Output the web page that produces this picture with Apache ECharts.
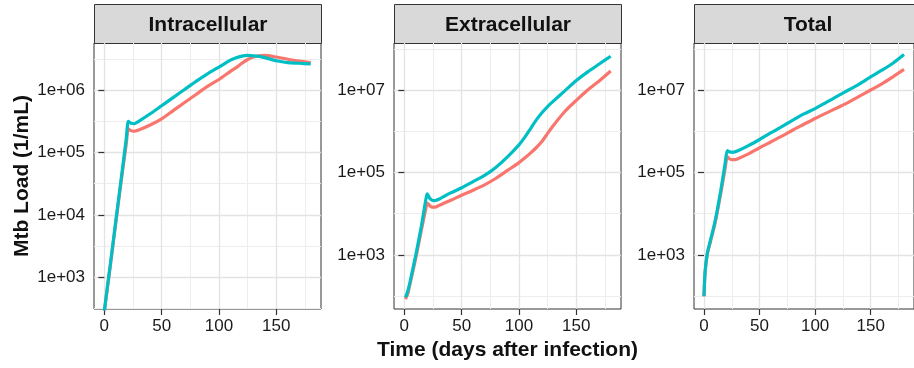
<!DOCTYPE html>
<html>
<head>
<meta charset="utf-8">
<script src="https://cdn.jsdelivr.net/npm/echarts@6/dist/echarts.min.js"></script>
<style>
html,body{margin:0;padding:0;background:#fff;}
#chart{width:914px;height:368px;}
</style>
</head>
<body>
<div id="chart"></div>
<script>
// ---- data (Mtb load, 1/mL) ----
const panelTitles = ['Intracellular', 'Extracellular', 'Total'];
const seriesNames = ['red', 'teal'];

const intraDays = [0,1,3,5,10,15,19,21,23,26,30,40,50,60,70,80,90,100,110,115,120,125,130,135,140,150,160,170,180];
const intraRed  = [282,389,741,1413,7413,3.802e4,1.318e5,2.399e5,2.239e5,2.188e5,2.291e5,2.754e5,3.467e5,4.677e5,6.310e5,8.511e5,1.148e6,1.479e6,1.995e6,2.291e6,2.692e6,3.090e6,3.388e6,3.548e6,3.590e6,3.388e6,3.126e6,2.917e6,2.754e6];
const intraTeal = [282,398,776,1479,7943,4.169e4,1.585e5,3.162e5,2.951e5,2.884e5,3.162e5,4.169e5,5.623e5,7.586e5,1.023e6,1.380e6,1.820e6,2.344e6,3.020e6,3.311e6,3.508e6,3.590e6,3.548e6,3.467e6,3.311e6,2.951e6,2.754e6,2.692e6,2.630e6];

const extraDays = [1,3,5,10,15,19,20,22,24,27,30,40,50,60,70,80,90,100,105,110,115,120,125,130,140,150,160,170,180];
const extraRed  = [85.1,115,200,851,4169,1.445e4,1.820e4,1.585e4,1.445e4,1.445e4,1.585e4,2.089e4,2.818e4,3.715e4,5.012e4,7.244e4,1.122e5,1.738e5,2.239e5,2.951e5,3.981e5,5.623e5,8.913e5,1.380e6,3.020e6,5.623e6,1.0e7,1.660e7,2.884e7];
const extraTeal = [93.3,132,224,1000,5248,2.399e4,3.020e4,2.399e4,2.138e4,2.089e4,2.239e4,3.162e4,4.266e4,6.026e4,8.511e4,1.349e5,2.399e5,4.677e5,7.079e5,1.148e6,1.862e6,2.818e6,3.981e6,5.370e6,9.550e6,1.698e7,2.754e7,4.266e7,6.607e7];

const totalDays = [0,1,3,5,10,15,19,21,23,26,30,40,50,60,70,80,90,100,110,120,130,140,150,160,170,180];
const totalRed  = [100,380,1072,1738,6026,3.020e4,1.259e5,2.399e5,2.138e5,2.042e5,2.138e5,2.818e5,3.981e5,5.495e5,7.586e5,1.072e6,1.479e6,2.042e6,2.754e6,3.715e6,5.012e6,7.079e6,1.0e7,1.413e7,2.089e7,3.162e7];
const totalTeal = [100,398,1122,1862,6607,3.548e4,1.660e5,3.388e5,3.162e5,3.090e5,3.311e5,4.467e5,6.310e5,9.120e5,1.288e6,1.862e6,2.630e6,3.548e6,5.012e6,7.079e6,1.0e7,1.413e7,2.089e7,3.020e7,4.467e7,7.244e7];

// tick labels
const xTickValues = [0, 50, 100, 150];
const xTickLabels = ['0', '50', '100', '150'];
const intraTickValues = [1e3, 1e4, 1e5, 1e6];
const intraTickLabels = ['1e+03', '1e+04', '1e+05', '1e+06'];
const extraTickValues = [1e3, 1e5, 1e7];
const extraTickLabels = ['1e+03', '1e+05', '1e+07'];
const totalTickValues = [1e3, 1e5, 1e7];
const totalTickLabels = ['1e+03', '1e+05', '1e+07'];

// ---- layout / style ----
const FONT = "'Liberation Sans', Arial, Helvetica, sans-serif";
const RED = '#F8766D', TEAL = '#00BFC4';
const panelLeft = [94, 394, 694];
const panelWidth = 227;
const panelTop = 43, panelHeight = 266;
const xRange = [-9, 189];
const yRanges = [[Math.pow(10, 2.49), Math.pow(10, 6.755)], [Math.pow(10, 1.69), Math.pow(10, 8.14)], [Math.pow(10, 1.69), Math.pow(10, 8.14)]];

const panels = [
  {days: intraDays, red: intraRed, teal: intraTeal, tv: intraTickValues, tl: intraTickLabels},
  {days: extraDays, red: extraRed, teal: extraTeal, tv: extraTickValues, tl: extraTickLabels},
  {days: totalDays, red: totalRed, teal: totalTeal, tv: totalTickValues, tl: totalTickLabels}
];

function minorLog(vals, range) {
  const step = Math.log10(vals[1]) - Math.log10(vals[0]);
  const out = [];
  const lo = Math.log10(range[0]), hi = Math.log10(range[1]);
  for (let e = Math.log10(vals[0]) - step / 2 - 10 * step; e <= hi; e += step) {
    if (e >= lo && e <= hi) out.push(Math.pow(10, e));
  }
  return out;
}
const xMinor = [25, 75, 125, 175];

const grids = [], xAxes = [], yAxes = [], series = [], graphics = [];
panels.forEach((p, i) => {
  grids.push({left: panelLeft[i], top: panelTop, width: panelWidth, height: panelHeight,
    show: true, borderColor: '#333', borderWidth: 1, backgroundColor: '#fff', containLabel: false});
  // major x axis
  xAxes.push({
    type: 'value', gridIndex: i, min: xRange[0], max: xRange[1], z: 1,
    axisLine: {show: false},
    axisTick: {show: true, length: 6, lineStyle: {color: '#333', width: 1.2}, customValues: xTickValues},
    axisLabel: {show: true, customValues: xTickValues, fontSize: 17, color: '#1a1a1a', fontFamily: FONT, margin: 9,
      formatter: v => xTickLabels[xTickValues.indexOf(v)]},
    splitLine: {show: true, lineStyle: {color: '#E3E3E3', width: 1.3}},
    name: i === 1 ? 'Time (days after infection)' : '',
    nameLocation: 'middle', nameGap: 28,
    nameTextStyle: {fontSize: 21, fontWeight: 'bold', color: '#111', fontFamily: FONT}
  });
  // minor x grid
  xAxes.push({
    type: 'value', gridIndex: i, min: xRange[0], max: xRange[1], z: 0,
    axisLine: {show: false}, axisLabel: {show: false},
    axisTick: {show: false, customValues: xMinor},
    splitLine: {show: true, lineStyle: {color: '#EDEDED', width: 1}}
  });
  const yr = yRanges[i];
  yAxes.push({
    type: 'log', logBase: 10, gridIndex: i, min: yr[0], max: yr[1], z: 1,
    axisLine: {show: false},
    axisTick: {show: true, length: 6, lineStyle: {color: '#333', width: 1.2}, customValues: p.tv},
    axisLabel: {show: true, customValues: p.tv, fontSize: 17, color: '#1a1a1a', fontFamily: FONT, margin: 9,
      formatter: v => {
        const k = p.tv.findIndex(t => Math.abs(Math.log10(t) - Math.log10(v)) < 1e-6);
        return k >= 0 ? p.tl[k] : '';
      }},
    splitLine: {show: true, lineStyle: {color: '#E3E3E3', width: 1.3}},
    name: i === 0 ? 'Mtb Load (1/mL)' : '',
    nameLocation: 'middle', nameGap: 61,
    nameTextStyle: {fontSize: 21, fontWeight: 'bold', color: '#111', fontFamily: FONT}
  });
  yAxes.push({
    type: 'log', logBase: 10, gridIndex: i, min: yr[0], max: yr[1], z: 0,
    axisLine: {show: false}, axisLabel: {show: false},
    axisTick: {show: false, customValues: minorLog(p.tv, yr)},
    splitLine: {show: true, lineStyle: {color: '#EDEDED', width: 1}}
  });
  [['red', RED], ['teal', TEAL]].forEach(([key, col]) => {
    series.push({
      type: 'line', name: key, xAxisIndex: 2 * i, yAxisIndex: 2 * i,
      data: p.days.map((d, k) => [d, p[key][k]]),
      showSymbol: false, smooth: 0.25, clip: true,
      lineStyle: {color: col, width: 3.2}, itemStyle: {color: col}, z: 3
    });
  });
  graphics.push({
    type: 'group', left: panelLeft[i], top: 4,
    children: [
      {type: 'rect', shape: {x: 0, y: 0, width: panelWidth, height: 39},
        style: {fill: '#D9D9D9', stroke: '#333', lineWidth: 1}},
      {type: 'text', x: panelWidth / 2, y: 20.5,
        style: {text: panelTitles[i], fill: '#111', font: 'bold 21px ' + FONT, align: 'center', verticalAlign: 'middle'}}
    ]
  });
});

const chart = echarts.init(document.getElementById('chart'), null, {renderer: 'canvas'});
chart.setOption({
  animation: false,
  backgroundColor: '#fff',
  grid: grids, xAxis: xAxes, yAxis: yAxes, series: series, graphic: graphics
});
</script>
</body>
</html>
